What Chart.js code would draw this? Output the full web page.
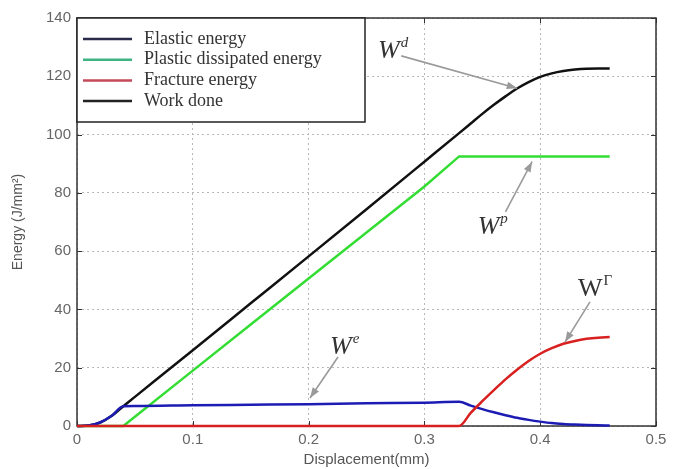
<!DOCTYPE html>
<html>
<head>
<meta charset="utf-8">
<script src="https://cdn.jsdelivr.net/npm/chart.js@4"></script>
<style>
  html, body { margin: 0; padding: 0; background: #fff; }
  #wrap { width: 683px; height: 469px; }
</style>
</head>
<body>
<div id="wrap"><canvas id="energyChart"></canvas></div>
<script>
// values
const displacement   = [0, 0.01, 0.02, 0.03, 0.04, 0.05, 0.1, 0.15, 0.2, 0.25, 0.3, 0.33, 0.34, 0.35, 0.36, 0.37, 0.38, 0.39, 0.40, 0.41, 0.42, 0.43, 0.44, 0.45, 0.46];
const elasticEnergy  = [0, 0.2, 1.2, 3.5, 6.8, 6.85, 7.1, 7.3, 7.5, 7.8, 8.0, 8.3, 7.0, 5.8, 4.7, 3.7, 2.8, 2.1, 1.5, 1.0, 0.7, 0.5, 0.35, 0.25, 0.2];
const plasticEnergy  = [0, 0, 0, 0, 0, 3.2, 19, 34.8, 50.6, 66.4, 82.2, 92.5, 92.5, 92.5, 92.5, 92.5, 92.5, 92.5, 92.5, 92.5, 92.5, 92.5, 92.5, 92.5, 92.5];
const fractureEnergy = [0, 0, 0, 0, 0, 0, 0, 0, 0, 0, 0, 0, 4.5, 8.5, 12.3, 16, 19.3, 22.3, 24.8, 26.7, 28.2, 29.2, 29.9, 30.3, 30.5];
const workDone       = [0, 0.2, 1.2, 3.5, 6.8, 10.0, 26.0, 42.1, 58.2, 74.4, 90.7, 100.5, 103.8, 107.1, 110.2, 113.1, 115.8, 118.0, 119.8, 121.0, 121.8, 122.3, 122.6, 122.7, 122.7];

const xTicks = [0, 0.1, 0.2, 0.3, 0.4, 0.5];
const yTicks = [0, 20, 40, 60, 80, 100, 120, 140];

const seriesNames = ['Elastic energy', 'Plastic dissipated energy', 'Fracture energy', 'Work done'];
const legendColors = ['#2a2a4a', '#3fb483', '#c44a5a', '#222222'];

// callout labels: [base, superscript, italic, textX, textY, arrowFromX, arrowFromY, arrowToX, arrowToY]
const callouts = [
  ['W', 'd', true, 0.26, 126.3, 0.280, 127, 0.380, 115.9],
  ['W', 'p', true, 0.346, 65.9, 0.370, 73.5, 0.393, 90.7],
  ['W', 'e', true, 0.2185, 24.7, 0.2254, 23.7, 0.2012, 9.6],
  ['W', '\u0393', false, 0.4326, 44.6, 0.443, 42.6, 0.4214, 28.8]
];

function toPoints(ys) {
  return displacement.map((x, i) => ({ x: x, y: ys[i] }));
}

const frameAndCallouts = {
  id: 'frameAndCallouts',
  beforeDatasetsDraw(chart) {
    const { ctx, chartArea: a, scales } = chart;
    ctx.save();
    ctx.strokeStyle = '#333';
    ctx.lineWidth = 1;
    xTicks.forEach(v => {
      const px = Math.round(scales.x.getPixelForValue(v)) + 0.5;
      ctx.beginPath();
      ctx.moveTo(px, a.bottom); ctx.lineTo(px, a.bottom - 5);
      ctx.moveTo(px, a.top); ctx.lineTo(px, a.top + 5);
      ctx.stroke();
    });
    yTicks.forEach(v => {
      const py = Math.round(scales.y.getPixelForValue(v)) + 0.5;
      ctx.beginPath();
      ctx.moveTo(a.left, py); ctx.lineTo(a.left + 5, py);
      ctx.moveTo(a.right, py); ctx.lineTo(a.right - 5, py);
      ctx.stroke();
    });
    ctx.lineWidth = 1.5;
    ctx.strokeRect(a.left, a.top, a.right - a.left, a.bottom - a.top);
    ctx.restore();
  },
  afterDraw(chart) {
    const { ctx, chartArea: a, scales } = chart;
    ctx.save();

    // legend box
    const lx = a.left, ly = a.top, lw = 288, lh = 104;
    ctx.fillStyle = '#fff';
    ctx.fillRect(lx, ly, lw, lh);
    ctx.strokeStyle = '#222';
    ctx.lineWidth = 1.5;
    ctx.strokeRect(lx, ly, lw, lh);
    ctx.font = '18px "Liberation Serif"';
    ctx.textBaseline = 'middle';
    seriesNames.forEach((name, i) => {
      const y = ly + 21 + i * 20.7;
      ctx.strokeStyle = legendColors[i];
      ctx.lineWidth = 2.5;
      ctx.beginPath();
      ctx.moveTo(lx + 6, y); ctx.lineTo(lx + 55, y);
      ctx.stroke();
      ctx.fillStyle = '#333';
      ctx.fillText(name, lx + 67, y);
    });

    // callouts with arrows
    callouts.forEach(c => {
      const [base, sup, italic, tx, ty, fx, fy, ax, ay] = c;
      const x1 = scales.x.getPixelForValue(fx), y1 = scales.y.getPixelForValue(fy);
      const x2 = scales.x.getPixelForValue(ax), y2 = scales.y.getPixelForValue(ay);
      ctx.strokeStyle = '#9a9a9a';
      ctx.fillStyle = '#9a9a9a';
      ctx.lineWidth = 1.6;
      ctx.beginPath();
      ctx.moveTo(x1, y1); ctx.lineTo(x2, y2);
      ctx.stroke();
      const ang = Math.atan2(y2 - y1, x2 - x1);
      ctx.beginPath();
      ctx.moveTo(x2, y2);
      ctx.lineTo(x2 - 11 * Math.cos(ang - 0.35), y2 - 11 * Math.sin(ang - 0.35));
      ctx.lineTo(x2 - 11 * Math.cos(ang + 0.35), y2 - 11 * Math.sin(ang + 0.35));
      ctx.closePath();
      ctx.fill();

      const px = scales.x.getPixelForValue(tx), py = scales.y.getPixelForValue(ty);
      ctx.fillStyle = '#333';
      ctx.textBaseline = 'alphabetic';
      ctx.font = (italic ? 'italic ' : '') + '26px "Liberation Serif"';
      ctx.fillText(base, px, py);
      const bw = ctx.measureText(base).width;
      ctx.font = (italic ? 'italic ' : '') + '15px "Liberation Serif"';
      ctx.fillText(sup, px + bw + 1, py - 11);
    });
    ctx.restore();
  }
};

const ctx = document.getElementById('energyChart').getContext('2d');
const chart = new Chart(ctx, {
  type: 'line',
  data: {
    datasets: [
      { label: seriesNames[3], data: toPoints(workDone), borderColor: '#111111', cubicInterpolationMode: 'monotone', order: 3 },
      { label: seriesNames[1], data: toPoints(plasticEnergy), borderColor: '#33dd33', tension: 0, order: 4 },
      { label: seriesNames[0], data: toPoints(elasticEnergy), borderColor: '#1c1cb4', cubicInterpolationMode: 'monotone', order: 2 },
      { label: seriesNames[2], data: toPoints(fractureEnergy), borderColor: '#d92020', cubicInterpolationMode: 'monotone', order: 1 }
    ]
  },
  options: {
    responsive: true,
    maintainAspectRatio: false,
    animation: false,
    datasets: {
      line: { borderWidth: 2.5, pointRadius: 0, fill: false, clip: 6 }
    },
    layout: { padding: { left: 0, right: 27, top: 18, bottom: 0 } },
    plugins: {
      legend: { display: false },
      tooltip: { enabled: false }
    },
    scales: {
      x: {
        type: 'linear',
        min: 0,
        max: 0.5,
        afterBuildTicks: s => { s.ticks = xTicks.map(v => ({ value: v })); },
        afterFit: s => { s.height = 43; },
        grid: { color: '#b8b8b8', drawTicks: false, tickLength: 0 },
        border: { display: false, dash: [2, 3] },
        ticks: {
          padding: 5,
          color: '#666',
          font: { family: 'Liberation Sans', size: 15 },
          callback: v => String(v)
        },
        title: {
          display: true,
          text: 'Displacement(mm)',
          color: '#555',
          font: { family: 'Liberation Sans', size: 15 },
          padding: { top: 0, bottom: 0 }
        }
      },
      y: {
        min: 0,
        max: 140,
        afterBuildTicks: s => { s.ticks = yTicks.map(v => ({ value: v })); },
        afterFit: s => { s.width = 77; },
        grid: { color: '#b8b8b8', drawTicks: false, tickLength: 0 },
        border: { display: false, dash: [2, 3] },
        ticks: {
          padding: 6,
          color: '#666',
          font: { family: 'Liberation Sans', size: 15 }
        },
        title: {
          display: true,
          text: 'Energy (J/mm\u00B2)',
          color: '#555',
          font: { family: 'Liberation Sans', size: 14 },
          padding: { top: 10, bottom: 4 }
        }
      }
    }
  },
  plugins: [frameAndCallouts]
});
</script>
</body>
</html>
